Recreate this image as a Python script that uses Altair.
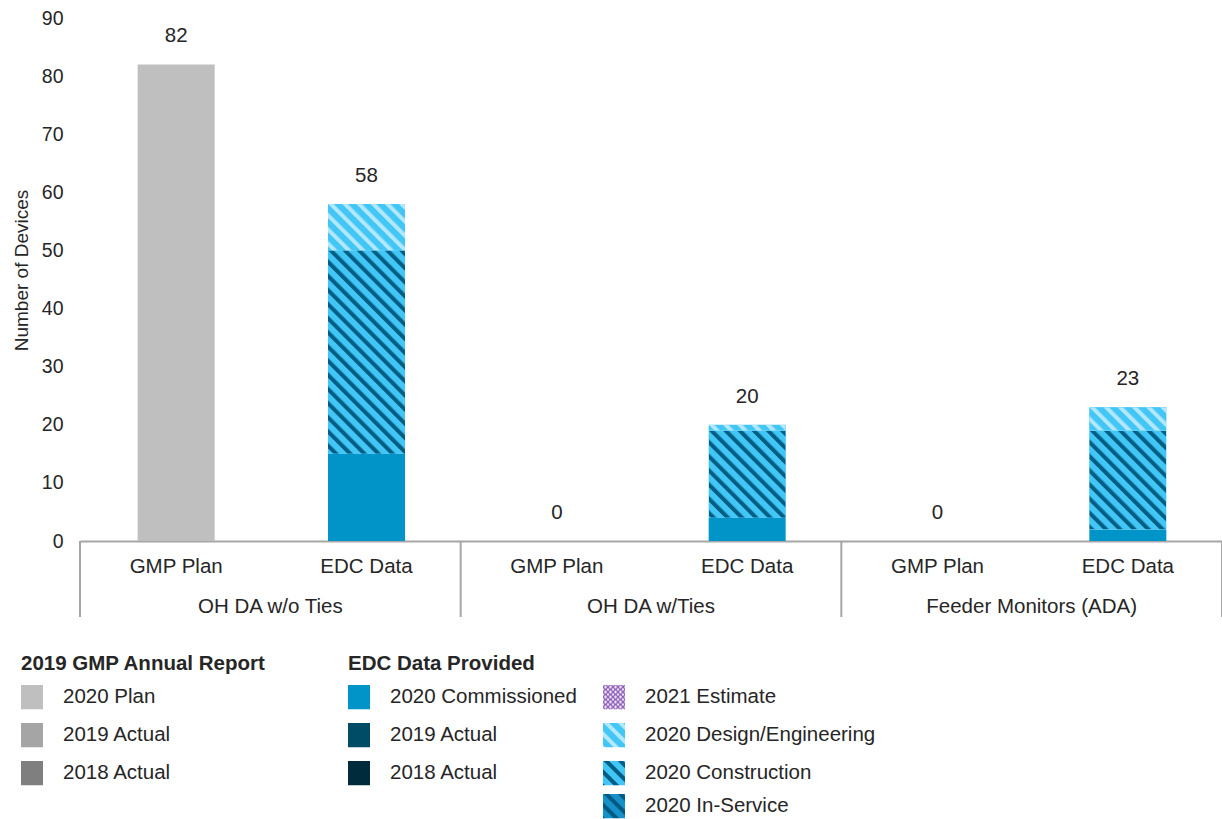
import urllib.parse

import altair as alt
import pandas as pd

# ---- values -------------------------------------------------------------
groups = ["OH DA w/o Ties", "OH DA w/Ties", "Feeder Monitors (ADA)"]
sources = ["GMP Plan", "EDC Data"]

gmp_plan_2020 = [82, 0, 0]
edc_commissioned_2020 = [15, 4, 2]
edc_construction_2020 = [35, 15, 17]
edc_design_2020 = [8, 1, 4]

y_ticks = [0, 10, 20, 30, 40, 50, 60, 70, 80, 90]

legend_titles = ["2019 GMP Annual Report", "EDC Data Provided"]
gmp_legend_labels = ["2020 Plan", "2019 Actual", "2018 Actual"]
edc_legend_labels = ["2020 Commissioned", "2019 Actual", "2018 Actual"]
edc_stage_labels = ["2021 Estimate", "2020 Design/Engineering",
                    "2020 Construction", "2020 In-Service"]

# ---- styling ------------------------------------------------------------
FONT = "Liberation Sans"
INK = "#262626"
LINE = "#A6A6A6"
PLOT_W, PLOT_H = 1142, 523
BAR_W = 77
TEXT_SIZE = 20.5


def svg_uri(body):
    svg = "<svg xmlns='http://www.w3.org/2000/svg'>" + body + "</svg>"
    return "data:image/svg+xml;charset=utf-8," + urllib.parse.quote(svg)


def solid(color):
    return svg_uri(f"<rect width='100%' height='100%' fill='{color}'/>")


def stripes(base, stripe, period=10, stripe_w=4):
    return svg_uri(
        f"<defs><pattern id='p' width='{period}' height='{period}' "
        "patternUnits='userSpaceOnUse' patternTransform='rotate(-45)'>"
        f"<rect width='{period}' height='{period}' fill='{base}'/>"
        f"<rect width='{stripe_w}' height='{period}' fill='{stripe}'/>"
        "</pattern></defs><rect width='100%' height='100%' fill='url(#p)'/>"
    )


def net(base, ink):
    return svg_uri(
        "<defs><pattern id='p' width='5' height='5' patternUnits='userSpaceOnUse'>"
        f"<rect width='5' height='5' fill='{base}'/>"
        f"<circle cx='2.5' cy='2.5' r='2' fill='none' stroke='{ink}' stroke-width='1'/>"
        "</pattern></defs><rect width='100%' height='100%' fill='url(#p)'/>"
    )


seg_colors = {
    "2020 Plan": "#BFBFBF",
    "2020 Commissioned": "#0094C8",
    "2020 Construction": "#41C6F6",
    "2020 Design/Engineering": "#41C6F6",
}
seg_fills = {
    "2020 Construction": stripes("#41C6F6", "#005E85"),
    "2020 Design/Engineering": stripes("#41C6F6", "#B3E8FC"),
}
legend_fills = {
    (0, "2020 Plan"): solid("#BFBFBF"),
    (0, "2019 Actual"): solid("#A5A5A5"),
    (0, "2018 Actual"): solid("#7F7F7F"),
    (1, "2020 Commissioned"): solid("#0094C8"),
    (1, "2019 Actual"): solid("#004B66"),
    (1, "2018 Actual"): solid("#002B3D"),
    (2, "2021 Estimate"): net("#E8E0F6", "#7030A0"),
    (2, "2020 Design/Engineering"): stripes("#41C6F6", "#B3E8FC"),
    (2, "2020 Construction"): stripes("#41C6F6", "#005E85"),
    (2, "2020 In-Service"): stripes("#1690C6", "#005A84"),
}

# ---- tables -------------------------------------------------------------
keys = [f"{g}|{s}" for g in groups for s in sources]

rows = []
for i, g in enumerate(groups):
    rows.append(dict(key=f"{g}|GMP Plan", segment="2020 Plan", order=0,
                     value=gmp_plan_2020[i]))
    edc_parts = [("2020 Commissioned", edc_commissioned_2020),
                 ("2020 Construction", edc_construction_2020),
                 ("2020 Design/Engineering", edc_design_2020)]
    for order, (seg, vals) in enumerate(edc_parts):
        rows.append(dict(key=f"{g}|EDC Data", segment=seg, order=order,
                         value=vals[i]))
bars_df = pd.DataFrame(rows)
bars_df["pattern"] = bars_df["segment"].map(seg_fills).fillna("")

labels_df = pd.DataFrame({
    "key": keys,
    "source": [s for g in groups for s in sources],
    "group": [g for g in groups for s in sources],
})
group_df = labels_df[labels_df["source"] == sources[0]]
end_df = labels_df.tail(1)

legend_rows = []
for col, labels in enumerate([gmp_legend_labels, edc_legend_labels, edc_stage_labels]):
    for row, lab in enumerate(labels):
        legend_rows.append(dict(col=col, row=row, label=lab,
                                swatch=legend_fills[(col, lab)]))
legend_df = pd.DataFrame(legend_rows)
legend_title_df = pd.DataFrame({"col": [0, 1], "row": [-1, -1],
                                "label": legend_titles})

# ---- main plot ----------------------------------------------------------
x_scale = alt.Scale(domain=keys, paddingInner=0, paddingOuter=0)
x_axis = alt.Axis(labels=False, ticks=False, title=None, grid=False,
                  domain=True, domainColor=LINE, domainWidth=2)
y_scale = alt.Scale(domain=[0, 90], nice=False, zero=True)
y_axis = alt.Axis(values=y_ticks, title="Number of Devices", grid=False,
                  domain=False, ticks=False, labelPadding=17, titlePadding=10,
                  labelFontSize=19.5, titleFontSize=19, titleFontWeight="normal",
                  titleY=252)


def X(**kw):
    return alt.X("key:N", scale=x_scale, axis=x_axis, **kw)


def Y(field):
    return alt.Y(field, scale=y_scale, axis=y_axis)


stacked = alt.Chart(bars_df).transform_stack(
    stack="value", groupby=["key"], as_=["y0", "y1"],
    sort=[alt.SortField("order")],
)

bars = stacked.mark_bar(width=BAR_W, xOffset=1).encode(
    x=X(),
    y=Y("y1:Q"),
    y2="y0:Q",
    color=alt.Color("segment:N", legend=None,
                    scale=alt.Scale(domain=list(seg_colors),
                                    range=list(seg_colors.values()))),
)

hatch = stacked.transform_filter("datum.pattern != ''").mark_image(
    width=BAR_W, aspect=False, xOffset=1
).encode(
    x=X(),
    y=Y("y1:Q"),
    y2="y0:Q",
    url="pattern:N",
)

totals = alt.Chart(bars_df).transform_aggregate(
    total="sum(value)", groupby=["key"]
).mark_text(dy=-28, dx=1, fontSize=TEXT_SIZE, baseline="middle").encode(
    x=X(),
    y=Y("total:Q"),
    text="total:Q",
)

source_labels = alt.Chart(labels_df).mark_text(
    fontSize=TEXT_SIZE, baseline="middle", dx=1
).encode(x=X(), y=alt.value(PLOT_H + 26), text="source:N")

group_labels = alt.Chart(group_df).mark_text(
    fontSize=TEXT_SIZE, baseline="middle"
).encode(x=X(bandPosition=1), y=alt.value(PLOT_H + 66), text="group:N")

separators = alt.Chart(group_df).mark_rule(color=LINE, strokeWidth=2).encode(
    x=X(bandPosition=0), y=alt.value(PLOT_H), y2=alt.value(PLOT_H + 76)
)
end_separator = alt.Chart(end_df).mark_rule(color=LINE, strokeWidth=2).encode(
    x=X(bandPosition=1), y=alt.value(PLOT_H), y2=alt.value(PLOT_H + 76)
)

main = alt.layer(bars, hatch, totals, source_labels, group_labels,
                 separators, end_separator)

# ---- legend below the axis ----------------------------------------------
lx = alt.X("col:Q", axis=None,
           scale=alt.Scale(domain=[0, 1, 2], range=[-48, 279, 534],
                           nice=False, zero=False))
ly = alt.Y("row:Q", axis=None,
           scale=alt.Scale(domain=[-1, 0, 1, 2, 3],
                           range=[646, 679, 717, 755, 788],
                           nice=False, zero=False))

swatches = alt.Chart(legend_df).mark_image(width=22, height=25, aspect=False).encode(
    x=lx, y=ly, url="swatch:N"
)
swatch_text = alt.Chart(legend_df).mark_text(
    align="left", baseline="middle", dx=31, fontSize=TEXT_SIZE
).encode(x=lx, y=ly, text="label:N")
legend_head = alt.Chart(legend_title_df).mark_text(
    align="left", baseline="middle", dx=-11, fontSize=TEXT_SIZE, fontWeight="bold"
).encode(x=lx, y=ly, text="label:N")

legend = alt.layer(swatches, swatch_text, legend_head)

chart = (
    alt.layer(main, legend)
    .resolve_scale(x="independent", y="independent")
    .properties(
        width=PLOT_W,
        height=PLOT_H,
        padding={"left": 80, "top": 18, "right": 0, "bottom": 278},
        autosize=alt.AutoSizeParams(type="none"),
        background="white",
    )
    .configure_view(stroke=None)
    .configure_text(font=FONT, color=INK)
    .configure_axis(labelFont=FONT, titleFont=FONT, labelColor=INK,
                    titleColor=INK)
)

chart.save("out.html", embed_options={"renderer": "svg", "actions": False})
